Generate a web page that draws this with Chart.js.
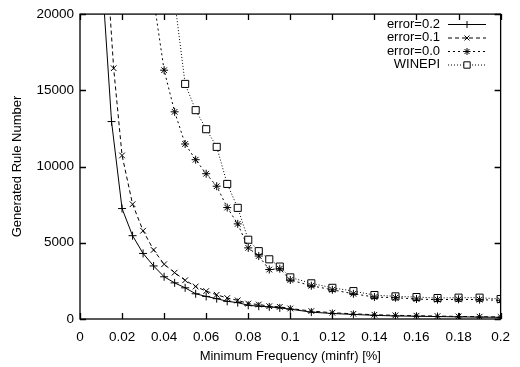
<!DOCTYPE html>
<html lang="en">
<head>
    <meta charset="UTF-8">
    <title>Generated Rule Number vs Minimum Frequency</title>
    <style>
        body { margin: 0; background: #fff; }
        .chart-container { width: 520px; height: 367px; }
    </style>
    <script src="https://cdn.jsdelivr.net/npm/chart.js"></script>
</head>
<body>
    <div class="chart-container">
        <canvas id="ruleChart" width="520" height="367"></canvas>
    </div>

    <script>
        // Values (x in %, y = rule count)
        const err02X = [0.01, 0.015, 0.02, 0.025, 0.03, 0.035, 0.04, 0.045, 0.05, 0.055, 0.06, 0.065, 0.07, 0.075, 0.08, 0.085, 0.09, 0.095, 0.1,
                        0.11, 0.12, 0.13, 0.14, 0.15, 0.16, 0.17, 0.18, 0.19, 0.2];
        const err02Y = [23400, 12950, 7245, 5465, 4300, 3480, 2770, 2370, 2045, 1655, 1480, 1335, 1160, 1075, 900, 840, 795, 730, 645,
                        450, 360, 300, 240, 200, 180, 160, 140, 125, 110];

        const err01X = [0.01, 0.016, 0.02, 0.025, 0.03, 0.035, 0.04, 0.045, 0.05, 0.055, 0.06, 0.065, 0.07, 0.075, 0.08, 0.085, 0.09, 0.095, 0.1,
                        0.11, 0.12, 0.13, 0.14, 0.15, 0.16, 0.17, 0.18, 0.19, 0.2];
        const err01Y = [29000, 16450, 10730, 7530, 5790, 4530, 3590, 3040, 2540, 2130, 1830, 1590, 1375, 1225, 1010, 950, 840, 795, 690,
                        520, 410, 340, 280, 240, 215, 190, 170, 150, 135];

        const err00X = [0.035, 0.04, 0.045, 0.05, 0.055, 0.06, 0.065, 0.07, 0.075, 0.08, 0.085, 0.09, 0.095, 0.1,
                        0.11, 0.12, 0.13, 0.14, 0.15, 0.16, 0.17, 0.18, 0.19, 0.2];
        const err00Y = [21000, 16320, 13590, 11480, 10450, 9530, 8710, 7310, 6240, 4665, 4130, 3245, 3300, 2560,
                        2180, 1915, 1655, 1440, 1400, 1310, 1270, 1290, 1270, 1225];

        const winepiX = [0.045, 0.05, 0.055, 0.06, 0.065, 0.07, 0.075, 0.08, 0.085, 0.09, 0.095, 0.1,
                         0.11, 0.12, 0.13, 0.14, 0.15, 0.16, 0.17, 0.18, 0.19, 0.2];
        const winepiY = [20900, 15420, 13700, 12450, 11290, 8860, 7290, 5200, 4450, 3915, 3440, 2730,
                         2340, 2045, 1830, 1570, 1485, 1440, 1375, 1400, 1400, 1310];

        const xTicks = [0, 0.02, 0.04, 0.06, 0.08, 0.1, 0.12, 0.14, 0.16, 0.18, 0.2];
        const yTicks = [0, 5000, 10000, 15000, 20000];

        const FONT = 'Liberation Sans, Arial, Helvetica, sans-serif';

        function toPoints(xs, ys) {
            return xs.map((x, i) => ({ x: x, y: ys[i] }));
        }

        function series(label, xs, ys, dash, style, radius) {
            return {
                label: label,
                data: toPoints(xs, ys),
                borderColor: '#000',
                borderWidth: 1,
                borderDash: dash,
                pointStyle: style,
                pointRadius: radius,
                pointBorderWidth: 1,
                pointBorderColor: '#000',
                pointBackgroundColor: '#fff',
                tension: 0,
                fill: false
            };
        }

        // gnuplot-style frame with inward ticks on all four sides
        const framePlugin = {
            id: 'frame',
            afterDatasetsDraw(chart) {
                const { ctx, chartArea: a, scales } = chart;
                ctx.save();
                ctx.strokeStyle = '#000';
                ctx.lineWidth = 1.3;
                ctx.setLineDash([]);
                ctx.strokeRect(a.left, a.top, a.right - a.left, a.bottom - a.top);
                ctx.beginPath();
                xTicks.forEach(v => {
                    const px = Math.round(scales.x.getPixelForValue(v)) + 0.5;
                    ctx.moveTo(px, a.bottom); ctx.lineTo(px, a.bottom - 6);
                    ctx.moveTo(px, a.top); ctx.lineTo(px, a.top + 6);
                });
                yTicks.forEach(v => {
                    const py = Math.round(scales.y.getPixelForValue(v)) + 0.5;
                    ctx.moveTo(a.left, py); ctx.lineTo(a.left + 6, py);
                    ctx.moveTo(a.right, py); ctx.lineTo(a.right - 6, py);
                });
                ctx.stroke();
                ctx.restore();
            }
        };

        // key drawn inside the plot, top right
        const keyPlugin = {
            id: 'key',
            afterDatasetsDraw(chart) {
                const ctx = chart.ctx;
                ctx.save();
                ctx.font = '13px ' + FONT;
                ctx.textAlign = 'right';
                ctx.textBaseline = 'middle';
                chart.data.datasets.forEach((ds, i) => {
                    const y = 24 + i * 13.5;
                    ctx.fillStyle = '#000';
                    ctx.fillText(ds.label, 440, y);
                    ctx.strokeStyle = '#000';
                    ctx.lineWidth = 1;
                    ctx.setLineDash(ds.borderDash);
                    ctx.beginPath();
                    ctx.moveTo(448, y + 0.5);
                    ctx.lineTo(486, y + 0.5);
                    ctx.stroke();
                    ctx.setLineDash([]);
                    ctx.fillStyle = '#fff';
                    Chart.helpers.drawPoint(ctx, {
                        pointStyle: ds.pointStyle,
                        radius: ds.pointRadius - 0.5,
                        borderWidth: 1,
                        rotation: 0
                    }, 467, y + 0.5);
                });
                ctx.restore();
            }
        };

        const ctx = document.getElementById('ruleChart').getContext('2d');
        const chart = new Chart(ctx, {
            type: 'line',
            data: {
                datasets: [
                    series('error=0.2', err02X, err02Y, [], 'cross', 4),
                    series('error=0.1', err01X, err01Y, [4, 3], 'crossRot', 4),
                    series('error=0.0', err00X, err00Y, [2, 3], 'star', 4),
                    series('WINEPI', winepiX, winepiY, [1, 2], 'rect', 5)
                ]
            },
            options: {
                responsive: false,
                animation: false,
                layout: { padding: { top: 9, right: 19, left: 0, bottom: 0 } },
                plugins: {
                    legend: { display: false },
                    tooltip: { enabled: false }
                },
                scales: {
                    x: {
                        type: 'linear',
                        min: 0,
                        max: 0.2,
                        afterBuildTicks: s => { s.ticks = xTicks.map(v => ({ value: v })); },
                        afterFit: s => { s.height = 48; },
                        grid: { display: false, drawTicks: false },
                        border: { display: false },
                        ticks: {
                            color: '#000',
                            padding: 10,
                            maxRotation: 0,
                            font: { family: FONT, size: 13.5 },
                            callback: v => String(+v.toFixed(2))
                        },
                        title: {
                            display: true,
                            text: 'Minimum Frequency (minfr) [%]',
                            color: '#000',
                            padding: { top: 0, bottom: 3 },
                            font: { family: FONT, size: 13 }
                        }
                    },
                    y: {
                        min: 0,
                        max: 20000,
                        afterBuildTicks: s => { s.ticks = yTicks.map(v => ({ value: v })); },
                        afterFit: s => { s.width = 80; },
                        grid: { display: false, drawTicks: false },
                        border: { display: false },
                        ticks: {
                            color: '#000',
                            padding: 6,
                            font: { family: FONT, size: 13.5 },
                            callback: v => String(v)
                        },
                        title: {
                            display: true,
                            text: 'Generated Rule Number',
                            color: '#000',
                            padding: { top: 10, bottom: 0 },
                            font: { family: FONT, size: 13 }
                        }
                    }
                }
            },
            plugins: [framePlugin, keyPlugin]
        });
    </script>
</body>
</html>
